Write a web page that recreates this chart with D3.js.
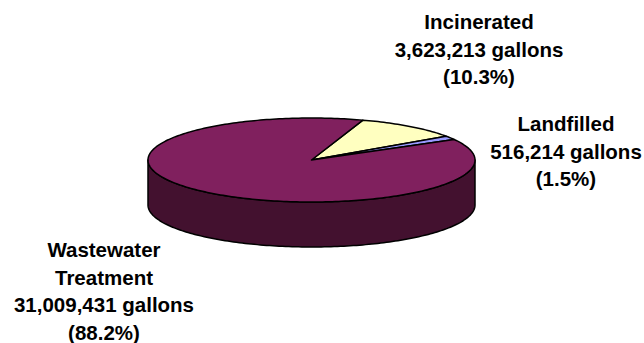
<!DOCTYPE html>
<meta charset="utf-8">
<style>
body { margin: 0; background: #fff; }
text { font-family: "Liberation Sans", Arial, sans-serif; font-weight: bold; fill: #000; }
</style>
<svg width="644" height="343"></svg>
<script src="https://d3js.org/d3.v7.min.js"></script>
<script>
// disposal categories, in the order the slices run clockwise
var categories = ["Incinerated", "Landfilled", "Wastewater Treatment"];
var labelLines = [["Incinerated"], ["Landfilled"], ["Wastewater", "Treatment"]];
var gallons = [3623213, 516214, 31009431];
var topColours = ["#ffffc0", "#9999ff", "#80205e"];
var sideColours = ["#bfbf90", "#5c5c99", "#43112f"];

var svg = d3.select("svg");

// pie geometry (tilted ellipse)
var cx = 311.5, cy = 160, rx = 163.5, ry = 42, depth = 45;
var x = d3.scaleLinear().domain([-1, 1]).range([cx - rx, cx + rx]);
var y = d3.scaleLinear().domain([-1, 1]).range([cy + ry, cy - ry]);

var total = d3.sum(gallons);
var pct = d3.format(".1%");
var num = d3.format(",");

var start = 0.32;
var pie = d3.pie().sort(null).startAngle(start).endAngle(start + 2 * Math.PI);
var arcs = pie(gallons);

function pt(a, dy) { return [x(Math.sin(a)), y(Math.cos(a)) + (dy || 0)]; }

function arcPoints(a0, a1, dy) {
  var n = Math.max(2, Math.ceil((a1 - a0) / 0.02));
  return d3.range(n + 1).map(function(i) { return pt(a0 + (a1 - a0) * i / n, dy); });
}

var line = d3.line();

// sides: only the front half (pi/2 .. 3pi/2) can be seen
var sides = [];
arcs.forEach(function(d, i) {
  [0, 2 * Math.PI].forEach(function(k) {
    var a0 = Math.max(d.startAngle, Math.PI / 2 + k);
    var a1 = Math.min(d.endAngle, 3 * Math.PI / 2 + k);
    if (a1 > a0) sides.push({ i: i, a0: a0, a1: a1 });
  });
});

svg.append("g").selectAll("path")
  .data(sides)
  .enter().append("path")
  .attr("d", function(s) {
    var top = arcPoints(s.a0, s.a1, 0);
    var bottom = arcPoints(s.a0, s.a1, depth).reverse();
    return line(top.concat(bottom)) + "Z";
  })
  .attr("fill", function(s) { return sideColours[s.i]; })
  .attr("stroke", "#000")
  .attr("stroke-width", 1.5)
  .attr("stroke-linejoin", "round");

svg.append("g").selectAll("path")
  .data(arcs)
  .enter().append("path")
  .attr("d", function(d) {
    return line([[cx, cy]].concat(arcPoints(d.startAngle, d.endAngle, 0))) + "Z";
  })
  .attr("fill", function(d, i) { return topColours[i]; })
  .attr("stroke", "#000")
  .attr("stroke-width", 1.5)
  .attr("stroke-linejoin", "round");

// data labels
var labelPos = [[479, 29], [566, 131], [104, 257]];
var lh = 27.5;

svg.append("g").selectAll("text")
  .data(arcs)
  .enter().append("text")
  .attr("text-anchor", "middle")
  .style("font-size", "20.5px")
  .each(function(d, i) {
    var lines = labelLines[i].concat([num(gallons[i]) + " gallons", "(" + pct(gallons[i] / total) + ")"]);
    d3.select(this).selectAll("tspan")
      .data(lines)
      .enter().append("tspan")
      .attr("x", labelPos[i][0])
      .attr("y", function(t, j) { return labelPos[i][1] + j * lh; })
      .text(function(t) { return t; });
  });
</script>
